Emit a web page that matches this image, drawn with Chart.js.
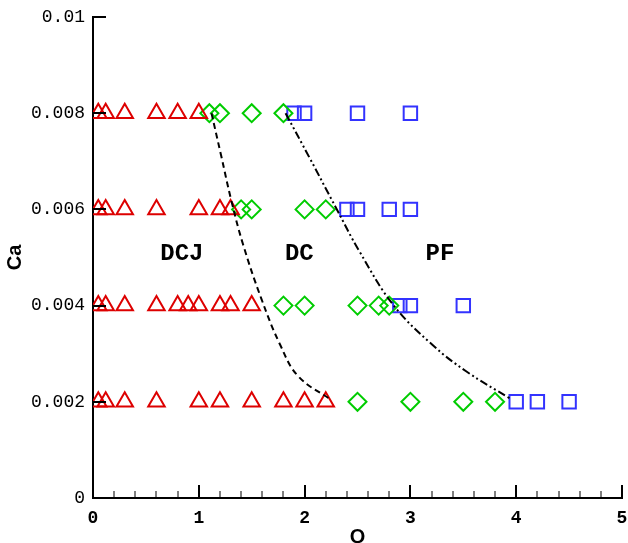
<!DOCTYPE html>
<html>
<head>
<meta charset="utf-8">
<script src="https://cdn.jsdelivr.net/npm/chart.js@4/dist/chart.umd.min.js"></script>
<style>
html,body{margin:0;padding:0;background:#fff;}
#wrap{width:628px;height:543px;position:relative;}
</style>
</head>
<body>
<div id="wrap"><canvas id="c"></canvas></div>
<script>
// ---- data ----
const dcjQ  = [0.05,0.12,0.3,0.6,0.8,1.0,  0.05,0.12,0.3,0.6,1.0,1.2,1.3,  0.05,0.12,0.3,0.6,0.8,0.9,1.0,1.2,1.3,1.5,  0.05,0.12,0.3,0.6,1.0,1.2,1.5,1.8,2.0,2.2];
const dcjCa = [0.008,0.008,0.008,0.008,0.008,0.008,  0.006,0.006,0.006,0.006,0.006,0.006,0.006,  0.004,0.004,0.004,0.004,0.004,0.004,0.004,0.004,0.004,0.004,  0.002,0.002,0.002,0.002,0.002,0.002,0.002,0.002,0.002,0.002];
const dcQ   = [1.1,1.2,1.5,1.8,  1.4,1.5,2.0,2.2,  1.8,2.0,2.5,2.7,2.8,  2.5,3.0,3.5,3.8];
const dcCa  = [0.008,0.008,0.008,0.008,  0.006,0.006,0.006,0.006,  0.004,0.004,0.004,0.004,0.004,  0.002,0.002,0.002,0.002];
const pfQ   = [1.9,2.0,2.5,3.0,  2.4,2.5,2.8,3.0,  2.9,3.0,3.5,  4.0,4.2,4.5];
const pfCa  = [0.008,0.008,0.008,0.008,  0.006,0.006,0.006,0.006,  0.004,0.004,0.004,  0.002,0.002,0.002];
// boundary curves
const b1Q  = [1.12,1.21,1.31,1.42,1.59,1.77,1.94,2.25];
const b1Ca = [0.0080,0.00713,0.00616,0.00526,0.00415,0.00318,0.00253,0.00204];
const b2Q  = [1.82,2.05,2.30,2.52,2.84,3.21,3.53,3.94];
const b2Ca = [0.0080,0.00706,0.00602,0.00512,0.00401,0.00318,0.00263,0.00207];
// region labels
const regionNames = ['DCJ','DC','PF'];
const regionQ  = [0.84,1.95,3.28];
const regionCa = [0.00507,0.00507,0.00507];
// tick labels
const xTickLabels = ['0','1','2','3','4','5'];
const yTickLabels = ['0','0.002','0.004','0.006','0.008','0.01'];

const pts = (xs, ys) => xs.map((x, i) => ({x: x, y: ys[i]}));

const inwardTicks = {
  id: 'inwardTicks',
  afterDraw(chart) {
    const ctx = chart.ctx;
    const xs = chart.scales.x, ys = chart.scales.y;
    const ca = chart.chartArea;
    ctx.save();
    ctx.strokeStyle = '#000';
    ctx.lineCap = 'butt';
    for (let i = 0; i <= 25; i++) {
      const v = i * 0.2;
      const px = Math.round(xs.getPixelForValue(v));
      const major = i % 5 === 0;
      ctx.lineWidth = major ? 2 : 1;
      ctx.beginPath();
      ctx.moveTo(px, ca.bottom);
      ctx.lineTo(px, ca.bottom - (major ? 13 : 7));
      ctx.stroke();
    }
    for (let i = 0; i < yTickLabels.length; i++) {
      const py = Math.round(ys.getPixelForValue(i * 0.002));
      ctx.lineWidth = 2;
      ctx.beginPath();
      ctx.moveTo(ca.left, py);
      ctx.lineTo(ca.left + 13, py);
      ctx.stroke();
    }
    ctx.fillStyle = '#000';
    ctx.font = 'bold 24px "Liberation Mono"';
    ctx.textAlign = 'center';
    ctx.textBaseline = 'middle';
    regionNames.forEach((t, i) => {
      ctx.fillText(t, xs.getPixelForValue(regionQ[i]), ys.getPixelForValue(regionCa[i]));
    });
    ctx.restore();
  }
};

new Chart(document.getElementById('c'), {
  type: 'scatter',
  data: {
    datasets: [
      { label: 'b1', data: pts(b1Q, b1Ca), showLine: true, pointRadius: 0, borderColor: '#000', borderWidth: 2, borderDash: [6,4], tension: 0.4, fill: false },
      { label: 'b2', data: pts(b2Q, b2Ca), showLine: true, pointRadius: 0, borderColor: '#000', borderWidth: 2, borderDash: [8,3,2,3,2,3], tension: 0.4, fill: false },
      { label: 'DCJ', data: pts(dcjQ, dcjCa), pointStyle: 'triangle', pointRadius: 9.5, pointBorderWidth: 2, borderColor: '#dd0000', backgroundColor: 'rgba(0,0,0,0)', showLine: false },
      { label: 'DC', data: pts(dcQ, dcCa), pointStyle: 'rectRot', pointRadius: 9, pointBorderWidth: 2, borderColor: '#00cc00', backgroundColor: 'rgba(0,0,0,0)', showLine: false },
      { label: 'PF', data: pts(pfQ, pfCa), pointStyle: 'rect', pointRadius: 9.5, pointBorderWidth: 2, borderColor: '#3333ff', backgroundColor: 'rgba(0,0,0,0)', showLine: false }
    ]
  },
  options: {
    responsive: true,
    maintainAspectRatio: false,
    animation: false,
    events: [],
    layout: { autoPadding: false, padding: { top: 17, right: 6, left: 0, bottom: 0 } },
    plugins: { legend: { display: false }, tooltip: { enabled: false } },
    scales: {
      x: {
        type: 'linear', min: 0, max: 5,
        afterFit(s) { s.height = 45; s.paddingLeft = 0; s.paddingRight = 0; },
        border: { display: true, color: '#000', width: 2 },
        grid: { display: false, drawTicks: false },
        ticks: {
          stepSize: 1, padding: 10, color: '#000',
          font: { family: '"Liberation Mono"', size: 18, weight: 'bold' },
          callback: (v) => xTickLabels[Math.round(v)]
        },
        title: { display: true, text: 'Q', color: '#000', font: { family: '"Liberation Sans"', size: 20, weight: 'bold', lineHeight: 1 }, padding: { top: 0, bottom: -4 } }
      },
      y: {
        type: 'linear', min: 0, max: 0.01,
        afterFit(s) { s.width = 93; s.paddingTop = 0; s.paddingBottom = 0; },
        border: { display: true, color: '#000', width: 2 },
        grid: { display: false, drawTicks: false },
        ticks: {
          stepSize: 0.002, padding: 8, color: '#000',
          font: { family: '"Liberation Mono"', size: 18 },
          callback: (v) => yTickLabels[Math.round(v / 0.002)]
        },
        title: { display: true, text: 'Ca', color: '#000', font: { family: '"Liberation Sans"', size: 20, weight: 'bold', lineHeight: 1 }, padding: { top: 5, bottom: 0 } }
      }
    }
  },
  plugins: [inwardTicks]
});
</script>
</body>
</html>
